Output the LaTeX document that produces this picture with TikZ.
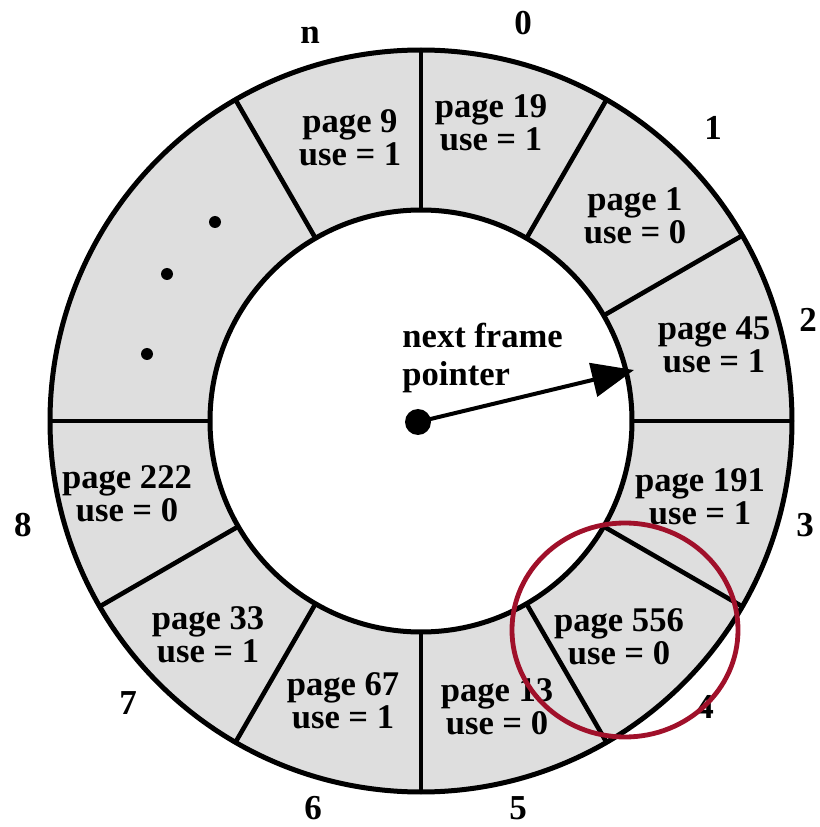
\documentclass[tikz,border=0pt]{standalone}
\usepackage{fontspec}
\setmainfont{Liberation Serif}
\usetikzlibrary{arrows.meta}
\definecolor{ringgray}{RGB}{222,222,222}
\definecolor{hilite}{RGB}{160,16,42}
\begin{document}
\begin{tikzpicture}[x=0.5pt,y=0.5pt,
  lbl/.style={font=\bfseries\fontsize{17.3}{16.5}\selectfont, inner sep=0pt, align=center},
  num/.style={font=\bfseries\fontsize{17.5}{18}\selectfont, inner sep=0pt},
  ring/.style={line width=2.5pt},
  divider/.style={line width=2.3pt},
  ptr/.style={line width=2pt,-{Triangle[length=21pt,width=17pt]}},
  dotmark/.style={circle, fill=black, inner sep=0pt, minimum size=6pt},
  hubdot/.style={circle, fill=black, inner sep=0pt, minimum size=13pt},
  mark ring/.style={draw=hilite, line width=2.4pt},
]
\useasboundingbox (0,0) rectangle (820,827);
% ring
\fill[ringgray, even odd rule] (421,406) circle (371) (421,406) circle (211);
\begin{scope}[shift={(421,406)}]
\foreach \a in {90,60,30,0,-30,-60,-90,-120,-150,180,120}
  \draw[divider] (\a:211) -- (\a:371);
\end{scope}
\draw[ring] (421,406) circle (371);
\draw[ring] (421,406) circle (211);
% frame contents
\node[lbl] (p9)   at (350,689) {page 9\\use = 1};
\node[lbl] (p19)  at (491,704) {page 19\\use = 1};
\node[lbl] (p1)   at (635,611) {page 1\\use = 0};
\node[lbl] (p45)  at (714,482) {page 45\\use = 1};
\node[lbl] (p191) at (700,330) {page 191\\use = 1};
\node[lbl] (p556) at (619,190) {page 556\\use = 0};
\node[lbl] (p13)  at (497,120) {page 13\\use = 0};
\node[lbl] (p67)  at (343,126) {page 67\\use = 1};
\node[lbl] (p33)  at (208,192) {page 33\\use = 1};
\node[lbl] (p222) at (127,333) {page 222\\use = 0};
% ellipsis dots
\node[dotmark] (d1) at (215,605) {};
\node[dotmark] (d2) at (167,553) {};
\node[dotmark] (d3) at (147,473) {};
% frame numbers
\node[num] (n0) at (523,804) {0};
\node[num] (n1) at (713,699) {1};
\node[num] (n2) at (808,507) {2};
\node[num] (n3) at (805,302) {3};
\node[num] (n4) at (705,120) {4};
\node[num] (n5) at (518,19) {5};
\node[num] (n6) at (313,19) {6};
\node[num] (n7) at (128,124) {7};
\node[num] (n8) at (23,302) {8};
\node[num] (nn) at (310,792) {n};
% pointer
\node[lbl, align=left, anchor=north west, font=\bfseries\fontsize{17.3}{19}\selectfont] (ptrtext) at (402,504) {next frame\\pointer};
\node[hubdot] (hub) at (418,405) {};
\coordinate (tip) at (634,457);
\draw[ptr] (hub.center) -- (tip);
% highlight
\draw[mark ring] (625,197) ellipse [x radius=113, y radius=107];
\end{tikzpicture}
\end{document}
